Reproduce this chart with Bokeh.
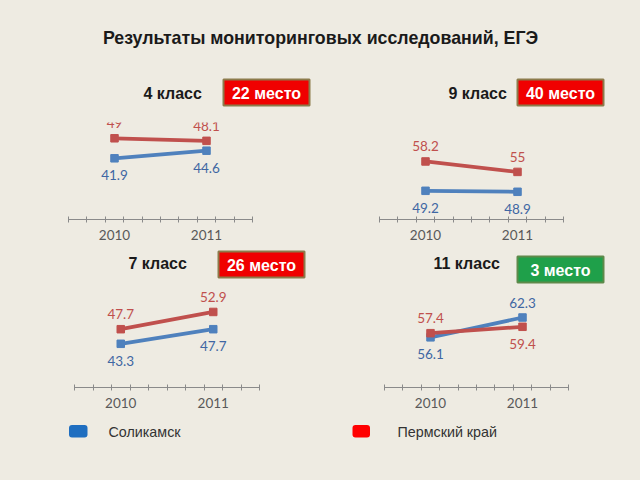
from bokeh.plotting import figure
from bokeh.layouts import column, row
from bokeh.models import Range1d, FixedTicker, ColumnDataSource
from bokeh.core.properties import value
from bokeh.embed import file_html
from bokeh.resources import INLINE

# ---------------- data ----------------
years = ["2010", "2011"]
title_text = "Результаты мониторинговых исследований, ЕГЭ"
grades = ["4 класс", "9 класс", "7 класс", "11 класс"]
places = ["22 место", "40 место", "26 место", "3 место"]
series_names = ["Соликамск", "Пермский край"]

solikamsk_4 = [41.9, 44.6]
perm_4 = [49, 48.1]
solikamsk_9 = [49.2, 48.9]
perm_9 = [58.2, 55]
solikamsk_7 = [43.3, 47.7]
perm_7 = [47.7, 52.9]
solikamsk_11 = [56.1, 62.3]
perm_11 = [57.4, 59.4]

# ---------------- style ----------------
BG = "#EEEBE2"
BLUE = "#4F81BD"
RED = "#C0504D"
BLUE_TXT = "#3F67A3"
RED_TXT = "#C0504D"
AXIS = "#8A8A8A"
TICK_TXT = "#595959"
HEAD_FONT = value("Liberation Sans")
NUM_FONT = value("Lato")
W = 640


def base_fig(width, height, xr, yr, **kw):
    p = figure(width=width, height=height, x_range=xr, y_range=yr,
               output_backend="svg", toolbar_location=None,
               background_fill_color=BG, border_fill_color=BG,
               outline_line_color=None, **kw)
    p.xgrid.visible = False
    p.ygrid.visible = False
    return p


def header(y_top, y_bot, items):
    p = base_fig(W, y_bot - y_top, Range1d(0, W), Range1d(y_bot, y_top),
                 x_axis_location=None, y_axis_location=None, min_border=0)
    for kind, args in items:
        if kind == "text":
            x, y, t, size, color, bold, align = args
            p.text([x], [y], text=[t], text_font=HEAD_FONT, text_font_size=size,
                   text_color=color, text_font_style="bold" if bold else "normal",
                   text_align=align, text_baseline="middle")
        elif kind == "badge":
            l, r, t, b, label, fill, border = args
            p.quad(left=[l], right=[r], top=[t], bottom=[b], fill_color=fill,
                   line_color=border, line_width=2)
            p.text([(l + r) / 2], [(t + b) / 2 + 0.5], text=[label], text_font=HEAD_FONT,
                   text_font_size="16px", text_color="white", text_font_style="bold",
                   text_align="center", text_baseline="middle")
    return p


def chart(width, height, left, right, top, bottom, y0, y1, sol, perm, sol_pos, perm_pos):
    p = base_fig(width, height, Range1d(0, len(years)), Range1d(y0, y1),
                 y_axis_location=None, min_border_left=left, min_border_right=right,
                 min_border_top=top, min_border_bottom=bottom)
    xs = [i + 0.5 for i in range(len(years))]
    ax = p.xaxis[0]
    ax.ticker = FixedTicker(ticks=xs, minor_ticks=[i * 0.2 for i in range(5 * len(years) + 1)])
    ax.major_label_overrides = {x: y for x, y in zip(xs, years)}
    ax.major_tick_line_color = None
    ax.major_tick_in = 0
    ax.major_tick_out = 0
    ax.minor_tick_in = 3
    ax.minor_tick_out = 3
    ax.minor_tick_line_color = AXIS
    ax.axis_line_color = AXIS
    ax.major_label_standoff = 7
    ax.major_label_text_font = "Lato"
    ax.major_label_text_font_size = "13.5px"
    ax.major_label_text_color = TICK_TXT
    for vals, pos, col, tcol in ((sol, sol_pos, BLUE, BLUE_TXT), (perm, perm_pos, RED, RED_TXT)):
        src = ColumnDataSource(dict(x=xs, y=vals, t=[f"{v:g}" for v in vals],
                                    off=[-15 if s == "above" else 17 for s in pos]))
        p.line("x", "y", source=src, line_color=col, line_width=3.8)
        p.scatter("x", "y", source=src, marker="square", size=7.5, fill_color=col,
                  line_color=col)
        p.text("x", "y", text="t", source=src, y_offset="off", text_font=NUM_FONT,
               text_font_size="13.5px", text_color=tcol, text_align="center",
               text_baseline="middle")
    return p


h1 = header(0, 114, [
    ("text", (320, 37, title_text, "17.8px", "#1A1A1A", True, "center")),
    ("text", (143, 92.5, grades[0], "16px", "#1A1A1A", True, "left")),
    ("badge", (223, 309, 79, 105, places[0], "#F00000", "#8C7B4B")),
    ("text", (448, 92.5, grades[1], "16px", "#1A1A1A", True, "left")),
    ("badge", (517, 603, 79, 105, places[1], "#F00000", "#8C7B4B")),
])

c1 = chart(312, 132, 68, 60, 8, 27, 20.2, 54.6, solikamsk_4, perm_4,
           ["below", "below"], ["above", "above"])
c2 = chart(328, 132, 67, 77, 8, 27, 40.4, 70.15, solikamsk_9, perm_9,
           ["below", "below"], ["above", "above"])

h2 = header(246, 288, [
    ("text", (128, 263, grades[2], "16px", "#1A1A1A", True, "left")),
    ("badge", (218, 304, 251, 277, places[2], "#F00000", "#8C7B4B")),
    ("text", (433, 263, grades[3], "16px", "#1A1A1A", True, "left")),
    ("badge", (517, 603, 256, 282, places[3], "#1FA04A", "#5E8A4A")),
])

c3 = chart(312, 132, 74, 53, 0, 33, 30.14, 59.96, solikamsk_7, perm_7,
           ["below", "below"], ["above", "above"])
c4 = chart(328, 132, 72, 72, 0, 28, 40.42, 71.37, solikamsk_11, perm_11,
           ["below", "above"], ["above", "below"])

leg = base_fig(W, 60, Range1d(0, W), Range1d(480, 420),
               x_axis_location=None, y_axis_location=None, min_border=0)
leg.quad(left=[68.5, 352], right=[87, 369.5], top=[424.5, 424.5], bottom=[437, 437],
         fill_color=["#1F6EC0", "#FF0000"], line_color=None, border_radius=3)
leg.text([108, 397], [431.5, 431.5], text=series_names, text_font=HEAD_FONT,
         text_font_size="14.3px", text_color="#333333", text_baseline="middle")

layout = column(h1, row(c1, c2), h2, row(c3, c4), leg, spacing=0,
                styles={"background-color": BG})

open("out.html", "w").write(file_html(layout, INLINE))
